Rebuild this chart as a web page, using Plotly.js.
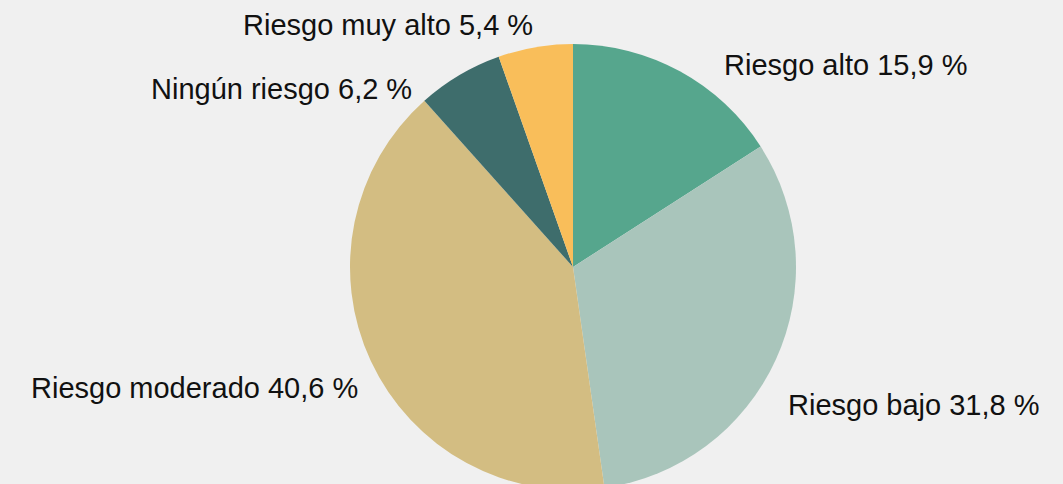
<!DOCTYPE html>
<html>
<head>
<meta charset="utf-8">
<script src="https://cdn.plot.ly/plotly-3.0.1.min.js"></script>
<style>
html, body { margin:0; padding:0; background:#f0f0f0; overflow:hidden; }
#chart { width:1063px; height:500px; }
</style>
</head>
<body>
<div id="chart"></div>
<script>
const categories = ["Riesgo alto", "Riesgo bajo", "Riesgo moderado", "Ningún riesgo", "Riesgo muy alto"];
const values = [15.9, 31.8, 40.6, 6.2, 5.4];
const colors = ["#56a68d", "#a9c5bb", "#d3bd82", "#3e6d6c", "#f9be5a"];

const W = 1063, H = 500;
// label anchor positions in pixels (text layout only)
const labelPos = [
  {x: 722, y: 65, anchor: "left"},
  {x: 786, y: 405, anchor: "left"},
  {x: 360, y: 388, anchor: "right"},
  {x: 414, y: 89, anchor: "right"},
  {x: 535, y: 25, anchor: "right"}
];
const fmt = v => v.toFixed(1).replace(".", ",") + " %";

const annotations = categories.map((c, i) => ({
  xref: "paper", yref: "paper",
  x: labelPos[i].x / W, y: 1 - labelPos[i].y / H,
  xanchor: labelPos[i].anchor, yanchor: "middle",
  text: c + " " + fmt(values[i]),
  showarrow: false,
  font: {family: "Liberation Sans, Arial, sans-serif", size: 29, color: "#111111"}
}));

const cx = 573, cy = 267, r = 223;
const trace = {
  type: "pie",
  labels: categories,
  values: values,
  marker: {colors: colors, line: {width: 0}},
  sort: false,
  direction: "clockwise",
  rotation: 0,
  textinfo: "none",
  hoverinfo: "label+percent",
  domain: {x: [(cx - r) / W, (cx + r) / W], y: [1 - (cy + r) / H, 1 - (cy - r) / H]}
};

Plotly.newPlot("chart", [trace], {
  width: W, height: H,
  margin: {l: 0, r: 0, t: 0, b: 0},
  paper_bgcolor: "#f0f0f0",
  plot_bgcolor: "#f0f0f0",
  showlegend: false,
  annotations: annotations
}, {displayModeBar: false, staticPlot: true});
</script>
</body>
</html>
